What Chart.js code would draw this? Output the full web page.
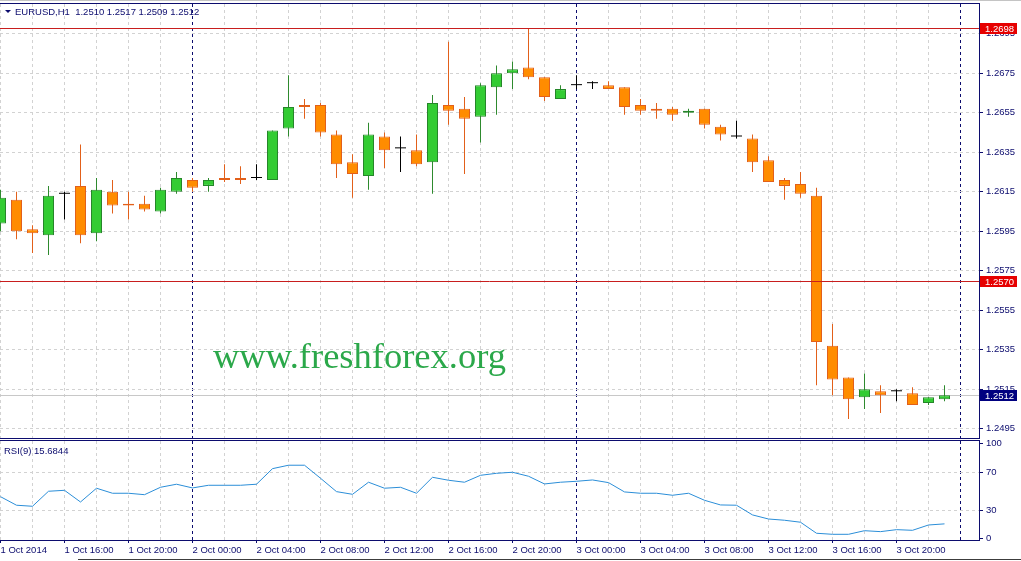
<!DOCTYPE html>
<html>
<head>
<meta charset="utf-8">
<script src="https://cdn.jsdelivr.net/npm/chart.js@4.4.1/dist/chart.umd.min.js"></script>
<style>
  html, body { margin: 0; padding: 0; background: #fff; }
  #wrap { position: relative; width: 1021px; height: 561px; overflow: hidden; }
  #wrap canvas { position: absolute; left: 0; top: 0; }
</style>
</head>
<body>
<div id="wrap">
  <canvas id="priceChart" width="1021" height="561"></canvas>
  <canvas id="rsiChart" width="1021" height="561"></canvas>
</div>
<script>
// EURUSD H1, 1 Oct 12:00 .. 3 Oct 23:00 (one value per hour)
const symbol = 'EURUSD,H1';
const openPrices = [
  1.2599, 1.2611, 1.2596, 1.2593, 1.2614, 1.2618, 1.2594, 1.2615, 1.2609, 1.2609,
  1.2605, 1.2615, 1.2621, 1.2618, 1.2622, 1.2622, 1.2622, 1.2621, 1.2647, 1.2659,
  1.2659, 1.2644, 1.2630, 1.2623, 1.2643, 1.2637, 1.2636, 1.2630, 1.2659, 1.2657,
  1.2653, 1.2668, 1.2675, 1.2678, 1.2673, 1.2662, 1.2669, 1.2670, 1.2669, 1.2668,
  1.2659, 1.2657, 1.2657, 1.2655, 1.2657, 1.2648, 1.2643, 1.2642, 1.2631, 1.2621,
  1.2619, 1.2613, 1.2537, 1.2521, 1.2511, 1.2514, 1.2514, 1.2513, 1.2508, 1.2510
];
const highPrices = [
  1.2616, 1.2615, 1.2598, 1.2618, 1.2615, 1.2639, 1.2622, 1.2621, 1.2615, 1.2613,
  1.2617, 1.2625, 1.2622, 1.2622, 1.2629, 1.2628, 1.2629, 1.2646, 1.2674, 1.2662,
  1.2660, 1.2646, 1.2634, 1.2650, 1.2645, 1.2643, 1.2644, 1.2664, 1.2691, 1.2663,
  1.2670, 1.2679, 1.2681, 1.2698, 1.2673, 1.2669, 1.2674, 1.2671, 1.2671, 1.2668,
  1.2662, 1.2660, 1.2658, 1.2657, 1.2657, 1.2649, 1.2651, 1.2644, 1.2633, 1.2622,
  1.2625, 1.2617, 1.2548, 1.2521, 1.2523, 1.2517, 1.2515, 1.2516, 1.2511, 1.2517
];
const lowPrices = [
  1.2595, 1.2591, 1.2584, 1.2583, 1.2601, 1.2589, 1.2590, 1.2604, 1.2601, 1.2605,
  1.2604, 1.2614, 1.2615, 1.2615, 1.2620, 1.2619, 1.2621, 1.2621, 1.2643, 1.2652,
  1.2643, 1.2622, 1.2612, 1.2616, 1.2627, 1.2625, 1.2628, 1.2614, 1.2649, 1.2624,
  1.2640, 1.2654, 1.2667, 1.2672, 1.2661, 1.2662, 1.2667, 1.2667, 1.2667, 1.2654,
  1.2654, 1.2652, 1.2651, 1.2653, 1.2647, 1.2641, 1.2642, 1.2625, 1.2620, 1.2611,
  1.2612, 1.2517, 1.2512, 1.2500, 1.2505, 1.2503, 1.2509, 1.2507, 1.2507, 1.2509
];
const closePrices = [
  1.2612, 1.2595, 1.2594, 1.2613, 1.2614, 1.2593, 1.2616, 1.2608, 1.2608, 1.2606,
  1.2616, 1.2622, 1.2617, 1.2621, 1.2621, 1.2621, 1.2622, 1.2646, 1.2658, 1.2658,
  1.2645, 1.2629, 1.2624, 1.2644, 1.2636, 1.2637, 1.2629, 1.2660, 1.2656, 1.2652,
  1.2669, 1.2675, 1.2677, 1.2673, 1.2663, 1.2667, 1.2669, 1.2670, 1.2667, 1.2658,
  1.2656, 1.2656, 1.2654, 1.2656, 1.2649, 1.2644, 1.2643, 1.2630, 1.2620, 1.2618,
  1.2614, 1.2539, 1.2520, 1.2510, 1.2515, 1.2512, 1.2514, 1.2507, 1.2511, 1.2512
];
const rsiValues = [
  44.3, 35.3, 34.2, 50.0, 51.0, 38.7, 53.2, 47.9, 47.9, 46.4,
  54.2, 57.4, 53.5, 56.3, 56.3, 56.3, 57.4, 73.8, 77.4, 77.4,
  63.7, 49.6, 46.8, 59.5, 53.2, 54.2, 47.9, 64.7, 61.6, 59.5,
  66.8, 68.9, 70.0, 65.8, 57.7, 59.5, 60.5, 61.9, 59.1, 49.3,
  47.9, 47.9, 45.8, 47.9, 40.5, 35.6, 35.3, 25.1, 20.8, 19.5,
  17.4, 5.8, 4.7, 4.7, 8.5, 7.5, 9.6, 8.9, 14.5, 15.6844
];
// one label every 4 bars
const timeLabels = [
  '1 Oct 2014', '1 Oct 16:00', '1 Oct 20:00', '2 Oct 00:00', '2 Oct 04:00',
  '2 Oct 08:00', '2 Oct 12:00', '2 Oct 16:00', '2 Oct 20:00', '3 Oct 00:00',
  '3 Oct 04:00', '3 Oct 08:00', '3 Oct 12:00', '3 Oct 16:00', '3 Oct 20:00'
];
const dayStarts = [12, 36, 60];
const priceTicks = [1.2495, 1.2515, 1.2535, 1.2555, 1.2575, 1.2595, 1.2615, 1.2635, 1.2655, 1.2675, 1.2695];
const levelLines = [1.2698, 1.2570];
const bidPrice = 1.2512;
const rsiTicks = [0, 30, 70, 100];
const rsiPeriod = 9;
const watermark = 'www.freshforex.org';

document.addEventListener('DOMContentLoaded', () => {
    const NAVY = '#0c0c6e';
    const GRID = '#d2d2d2';
    const FONT = '"Liberation Sans", Arial, sans-serif';
    const xMin = -0.03125, xMax = xMin + 979 / 16;

    const dir = closePrices.map((c, i) => Math.sign(Math.round((c - openPrices[i]) * 1e5)));
    const bodyFill = dir.map(d => d > 0 ? '#33cc33' : d < 0 ? '#ff8c00' : '#000000');
    const bodyEdge = dir.map(d => d > 0 ? '#26862a' : d < 0 ? '#e2601a' : '#000000');
    const wickColor = dir.map(d => d > 0 ? '#2e8a2e' : d < 0 ? '#e2601a' : '#000000');

    const xGridColor = c => (c.tick && dayStarts.includes(c.tick.value)) ? NAVY : GRID;
    // keep the plot area where the layout padding puts it
    const fitRight = s => { s.width = 42; s.paddingTop = 0; s.paddingBottom = 0; };

    const priceOverlay = {
        id: 'priceOverlay',
        beforeDatasetsDraw(chart) {
            const { ctx, chartArea: a, scales: { y } } = chart;
            ctx.save();
            ctx.font = '36.5px "Liberation Serif", "Times New Roman", serif';
            ctx.fillStyle = '#2ba84a';
            ctx.textBaseline = 'alphabetic';
            ctx.fillText(watermark, 213, 368);
            const by = Math.round(y.getPixelForValue(bidPrice)) + 0.5;
            ctx.strokeStyle = '#c8c8c8';
            ctx.lineWidth = 1;
            ctx.beginPath(); ctx.moveTo(a.left, by); ctx.lineTo(a.right, by); ctx.stroke();
            ctx.restore();
        },
        afterDatasetsDraw(chart) {
            const { ctx, chartArea: a, scales: { y } } = chart;
            ctx.save();
            ctx.strokeStyle = '#c81e1e';
            ctx.lineWidth = 1;
            levelLines.forEach(v => {
                const ly = Math.round(y.getPixelForValue(v)) + 0.5;
                ctx.beginPath(); ctx.moveTo(a.left, ly); ctx.lineTo(a.right, ly); ctx.stroke();
            });
            ctx.restore();
        },
        afterDraw(chart) {
            const { ctx, chartArea: a, scales: { y } } = chart;
            ctx.save();
            // frame
            ctx.fillStyle = '#c4c4c4';
            ctx.fillRect(0, 0, 1021, 1);
            ctx.fillStyle = NAVY;
            ctx.fillRect(0, a.top - 1, a.right + 1, 1);
            // header
            ctx.beginPath(); ctx.moveTo(5, 10); ctx.lineTo(11, 10); ctx.lineTo(8, 13); ctx.closePath(); ctx.fill();
            const n = closePrices.length - 1;
            const ohlc = [openPrices[n], highPrices[n], lowPrices[n], closePrices[n]].map(v => v.toFixed(4)).join(' ');
            ctx.font = '9.5px ' + FONT;
            ctx.textBaseline = 'middle';
            ctx.fillText(symbol + '  ' + ohlc, 15, 12);
            // price tags
            const tag = (v, bg) => {
                const ty = Math.round(y.getPixelForValue(v));
                ctx.fillStyle = bg;
                ctx.fillRect(a.right + 1, ty - 5, 37, 11);
                ctx.fillStyle = '#ffffff';
                ctx.fillText(v.toFixed(4), a.right + 6, ty + 1);
            };
            levelLines.forEach(v => tag(v, '#e60000'));
            tag(bidPrice, '#000080');
            ctx.restore();
        }
    };

    const rsiOverlay = {
        id: 'rsiOverlay',
        afterDraw(chart) {
            const { ctx, chartArea: a } = chart;
            ctx.save();
            ctx.fillStyle = NAVY;
            ctx.fillRect(0, a.top - 1, a.right + 1, 1);
            ctx.font = '9.5px ' + FONT;
            ctx.textBaseline = 'middle';
            ctx.fillText('RSI(' + rsiPeriod + ') ' + rsiValues[rsiValues.length - 1].toFixed(4), 4, 451);
            ctx.fillStyle = '#3c3c3c';
            ctx.fillRect(78, 559, 943, 1);
            ctx.restore();
        }
    };

    new Chart(document.getElementById('priceChart').getContext('2d'), {
        type: 'bar',
        data: {
            datasets: [{
                label: 'Body',
                data: openPrices.map((o, i) => ({ x: i, y: [o, closePrices[i]] })),
                backgroundColor: bodyFill,
                borderColor: bodyEdge,
                borderWidth: dir.map(d => d === 0 ? 0 : 1),
                borderSkipped: false,
                inflateAmount: 0,
                barThickness: 11,
                minBarLength: 1,
                grouped: false,
                order: 0
            }, {
                label: 'Wick',
                data: lowPrices.map((l, i) => ({ x: i, y: [l, highPrices[i]] })),
                backgroundColor: wickColor,
                borderWidth: 0,
                inflateAmount: 0,
                barThickness: 1,
                grouped: false,
                order: 1
            }]
        },
        options: {
            responsive: false,
            animation: false,
            events: [],
            layout: { padding: { top: 4, bottom: 123, left: 0, right: 0 } },
            plugins: { legend: { display: false }, tooltip: { enabled: false } },
            scales: {
                x: {
                    type: 'linear',
                    offset: false,
                    min: xMin,
                    max: xMax,
                    afterFit: s => { s.height = 0; s.paddingLeft = 0; s.paddingRight = 0; },
                    ticks: { display: false, stepSize: 2, includeBounds: false },
                    grid: { color: xGridColor, drawTicks: false, offset: false },
                    border: { display: true, color: NAVY, dash: [3, 3] }
                },
                y: {
                    position: 'right',
                    min: 1.249034,
                    max: 1.271009,
                    afterBuildTicks: s => { s.ticks = priceTicks.map(v => ({ value: v })); },
                    afterFit: fitRight,
                    ticks: {
                        color: NAVY,
                        padding: 3,
                        font: { family: FONT, size: 9.5 },
                        callback: v => v.toFixed(4)
                    },
                    grid: { color: GRID, tickColor: NAVY, tickLength: 4, tickBorderDash: [] },
                    border: { display: true, color: NAVY, dash: [3, 3] }
                }
            }
        },
        plugins: [priceOverlay]
    });

    new Chart(document.getElementById('rsiChart').getContext('2d'), {
        type: 'line',
        data: {
            datasets: [{
                label: 'RSI(' + rsiPeriod + ')',
                data: rsiValues.map((v, i) => ({ x: i, y: v })),
                borderColor: '#2b8ed8',
                borderWidth: 1,
                pointRadius: 0,
                tension: 0
            }]
        },
        options: {
            responsive: false,
            animation: false,
            events: [],
            layout: { padding: { top: 441, bottom: 0, left: 0, right: 0 } },
            plugins: { legend: { display: false }, tooltip: { enabled: false } },
            scales: {
                x: {
                    type: 'linear',
                    offset: false,
                    min: xMin,
                    max: xMax,
                    afterFit: s => { s.height = 21; s.paddingLeft = 0; s.paddingRight = 0; },
                    ticks: {
                        stepSize: 2,
                        includeBounds: false,
                        autoSkip: false,
                        minRotation: 0,
                        maxRotation: 0,
                        align: 'start',
                        padding: 2,
                        color: NAVY,
                        font: { family: FONT, size: 9.5 },
                        callback: v => (v % 4 === 0 && timeLabels[v / 4]) ? timeLabels[v / 4] : ''
                    },
                    grid: {
                        color: xGridColor,
                        tickLength: 3,
                        tickBorderDash: [],
                        tickColor: c => (c.tick && c.tick.value % 4 === 0 && timeLabels[c.tick.value / 4]) ? NAVY : 'rgba(0,0,0,0)'
                    },
                    border: { display: true, color: NAVY, dash: [3, 3] }
                },
                y: {
                    position: 'right',
                    min: -1.3,
                    max: 102.9,
                    afterBuildTicks: s => { s.ticks = rsiTicks.map(v => ({ value: v })); },
                    afterFit: fitRight,
                    ticks: { color: NAVY, padding: 3, font: { family: FONT, size: 9.5 } },
                    grid: {
                        color: c => (c.tick && (c.tick.value === 30 || c.tick.value === 70)) ? GRID : 'rgba(0,0,0,0)',
                        tickColor: NAVY,
                        tickLength: 4,
                        tickBorderDash: []
                    },
                    border: { display: true, color: NAVY, dash: [3, 3] }
                }
            }
        },
        plugins: [rsiOverlay]
    });
});
</script>
</body>
</html>
